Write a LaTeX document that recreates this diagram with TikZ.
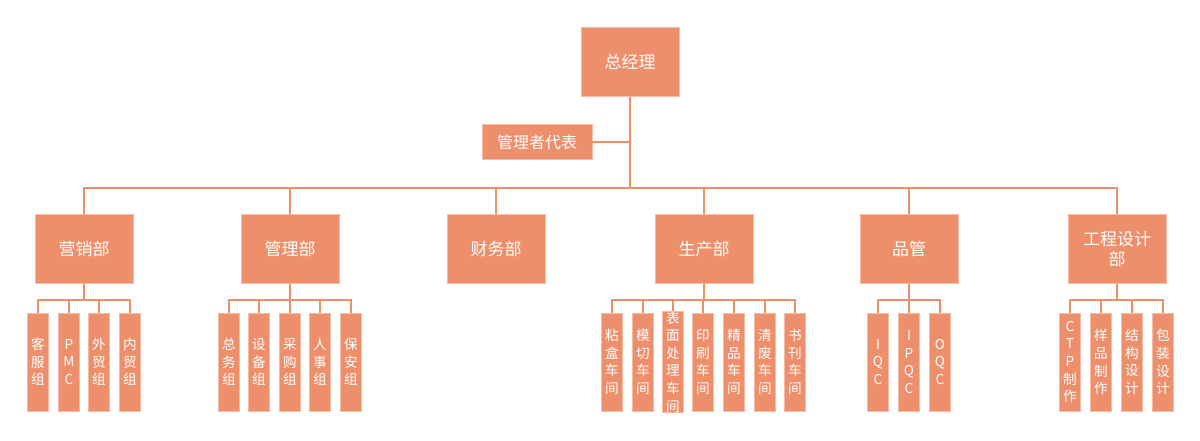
\documentclass[tikz,border=0pt]{standalone}
\usepackage{fontspec}
\setmainfont{Noto Sans CJK SC}
\definecolor{boxorange}{RGB}{237,143,107}
\tikzset{
  box/.style={fill=boxorange, draw=boxorange!60!white, line width=0.4pt, text=white, inner sep=0pt, align=center},
  box-top/.style={box, minimum width=49pt, minimum height=34.5pt, font=\fontsize{8.5}{10}\selectfont},
  box-rep/.style={box, minimum width=55pt, minimum height=17.5pt, font=\fontsize{8}{10}\selectfont},
  box-sub/.style={box, minimum width=10.5pt, minimum height=49pt, font=\fontsize{6.8}{8.8}\selectfont},
  link/.style={draw=boxorange, line width=1pt}
}
\begin{document}
\begin{tikzpicture}[x=0.5pt, y=-0.5pt]
  \useasboundingbox (0,0) rectangle (1200,440);

  % top
  \node[box-top] (ceo) at (630,62) {总经理};
  \node[box-rep] (rep) at (537,142) {管理者代表};
  \coordinate (bus) at (630,188);

  % departments
  \node[box-top] (d1) at (84,249) {营销部};
  \node[box-top] (d2) at (290,249) {管理部};
  \node[box-top] (d3) at (496,249) {财务部};
  \node[box-top] (d4) at (704,249) {生产部};
  \node[box-top] (d5) at (909,249) {品管};
  \node[box-top] (d6) at (1117,249) {工程设计\\部};

  % links from the top
  \draw[link] (ceo.south) -- (bus);
  \draw[link] (rep.east) -- (rep.east -| ceo.south);
  \foreach \d in {d1,d2,d3,d4,d5,d6}
    \draw[link] (bus) -| (\d.north);

  % sub units
  \foreach \x/\t [count=\i] in {38/客\\服\\组, 69/P\\M\\C, 99/外\\贸\\组, 130/内\\贸\\组}
    \node[box-sub] (s1\i) at (\x,362) {\t};
  \foreach \x/\t [count=\i] in {229/总\\务\\组, 259/设\\备\\组, 290/采\\购\\组, 320/人\\事\\组, 351/保\\安\\组}
    \node[box-sub] (s2\i) at (\x,362) {\t};
  \foreach \x/\t [count=\i] in {612/粘\\盒\\车\\间, 643/模\\切\\车\\间, 673/表\\面\\处\\理\\车\\间, 703/印\\刷\\车\\间, 734/精\\品\\车\\间, 765/清\\废\\车\\间, 795/书\\刊\\车\\间}
    \node[box-sub] (s4\i) at (\x,362) {\t};
  \foreach \x/\t [count=\i] in {878/I\\Q\\C, 909/I\\P\\Q\\C, 940/O\\Q\\C}
    \node[box-sub] (s5\i) at (\x,362) {\t};
  \foreach \x/\t [count=\i] in {1070/C\\T\\P\\制\\作, 1101/样\\品\\制\\作, 1132/结\\构\\设\\计, 1163/包\\装\\设\\计}
    \node[box-sub] (s6\i) at (\x,362) {\t};

  % links to sub units
  \foreach \d/\n in {1/4, 2/5, 4/7, 5/3, 6/4}
    \foreach \k in {1,...,\n}
      \draw[link] (d\d.south) -- (d\d.south |- 0,300) -| (s\d\k.north);
\end{tikzpicture}
\end{document}
